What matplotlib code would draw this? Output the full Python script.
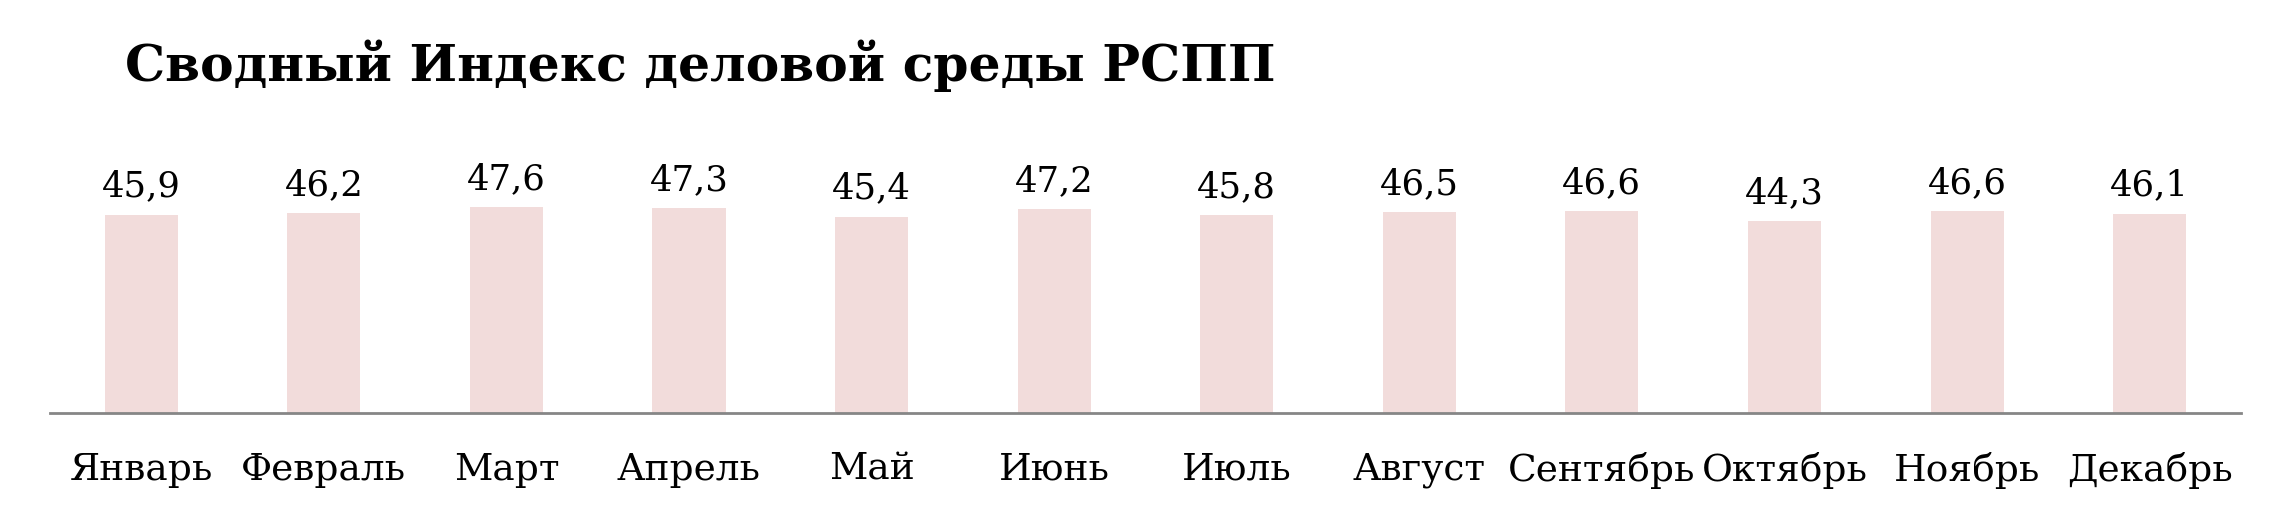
import matplotlib
matplotlib.use("Agg")
import matplotlib.pyplot as plt

# data
months = ["Январь", "Февраль", "Март", "Апрель", "Май", "Июнь",
          "Июль", "Август", "Сентябрь", "Октябрь", "Ноябрь", "Декабрь"]
values = [45.9, 46.2, 47.6, 47.3, 45.4, 47.2, 45.8, 46.5, 46.6, 44.3, 46.6, 46.1]
title = "Сводный Индекс деловой среды РСПП"

plt.rcParams['font.family'] = ['DejaVu Serif']

fig = plt.figure(figsize=(22.92, 5.19), dpi=100)
ax = fig.add_axes([0.0218, 0.2042, 0.9559, 0.50])

x = list(range(len(months)))
bars = ax.bar(x, values, width=0.4, color="#F2DCDB")

for xi, v in zip(x, values):
    ax.annotate(f"{v:.1f}".replace(".", ","), (xi, v), xytext=(0, 8),
                textcoords="offset points", ha="center", va="bottom", fontsize=25.5)

ax.set_xlim(-0.5, len(months) - 0.5)
ax.set_ylim(0, 60)
ax.set_xticks(x)
ax.set_xticklabels(months, fontsize=27)
ax.tick_params(axis="x", length=0, pad=28)
ax.set_yticks([])
for s in ["top", "right", "left"]:
    ax.spines[s].set_visible(False)
ax.spines["bottom"].set_color("#868686")
ax.spines["bottom"].set_linewidth(2)

fig.text(0.0545, 0.844, title, fontsize=36.3, fontweight="bold", ha="left", va="baseline")

fig.savefig("out.png", dpi=100)
